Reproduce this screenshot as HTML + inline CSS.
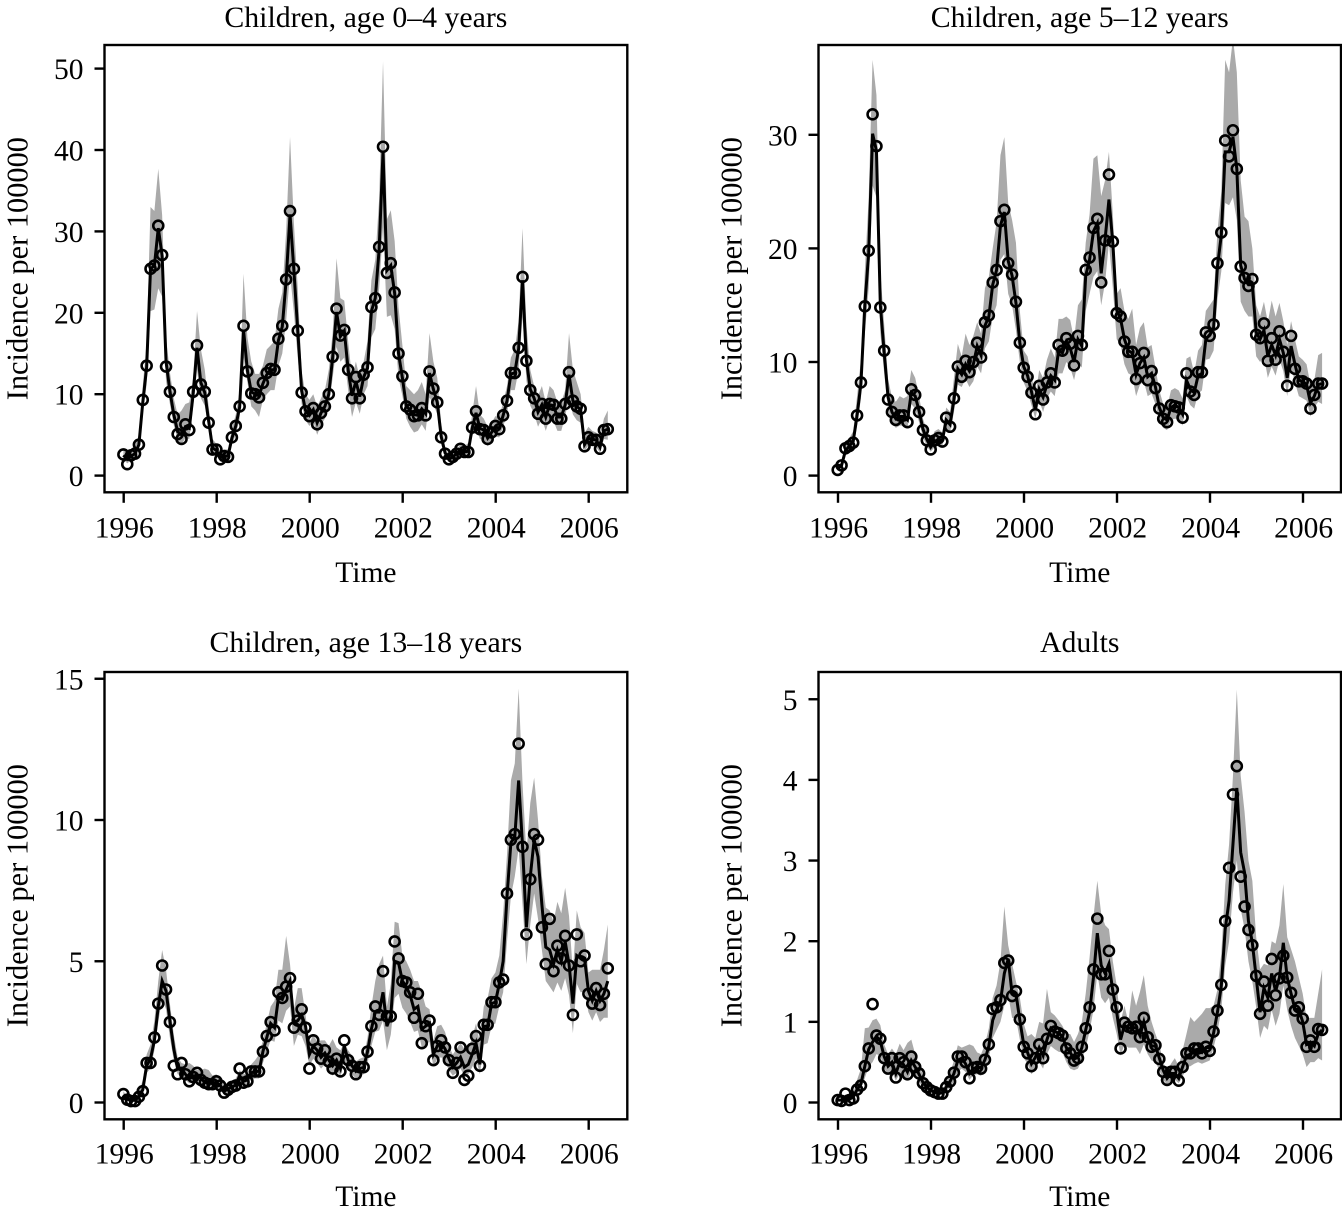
<!DOCTYPE html>
<html lang="en">
<head>
<meta charset="utf-8">
<title>Incidence per 100000 by age group, 1996–2006</title>
<style>
html,body{margin:0;padding:0;background:#fff;}
svg{display:block;}
text{font-family:"Liberation Serif","Times New Roman",serif;font-size:29.5px;fill:#000;}
</style>
</head>
<body>
<svg id="chart" xmlns="http://www.w3.org/2000/svg" width="1342" height="1212" viewBox="0 0 1342 1212"></svg>
<script>
const xTicks = [1996, 1998, 2000, 2002, 2004, 2006];
const startYear = 1996;

const panelTitles = ["Children, age 0–4 years", "Children, age 5–12 years", "Children, age 13–18 years", "Adults"];
const yAxisTitle = "Incidence per 100000";
const xAxisTitle = "Time";

const yTicks1 = [0, 10, 20, 30, 40, 50];
const yTicks2 = [0, 10, 20, 30];
const yTicks3 = [0, 5, 10, 15];
const yTicks4 = [0, 1, 2, 3, 4, 5];

/* Panel 1: age 0-4 */
const obs1 = [
2.6,1.4,2.5,2.7,3.8,9.3,13.5,25.4,25.8,30.7,27.1,13.4,
10.3,7.2,5.1,4.5,6.3,5.6,10.3,16.0,11.2,10.3,6.5,3.2,
3.2,2.0,2.4,2.3,4.7,6.1,8.5,18.4,12.8,10.1,10.0,9.6,
11.4,12.6,13.1,13.0,16.8,18.4,24.1,32.5,25.4,17.8,10.2,7.9,
7.3,8.3,6.3,7.7,8.5,10.0,14.6,20.5,17.2,17.9,13.0,9.5,
12.1,9.5,12.4,13.3,20.7,21.8,28.1,40.4,24.9,26.1,22.5,15.0,
12.2,8.5,8.1,7.3,7.4,8.3,7.4,12.8,10.7,9.0,4.7,2.7,
2.0,2.3,2.7,3.3,2.9,2.9,5.9,7.9,5.7,5.6,4.5,5.3,
6.1,5.7,7.4,9.2,12.6,12.6,15.7,24.4,14.1,10.5,9.5,7.6,
8.8,7.0,8.8,8.7,7.0,7.0,8.8,12.7,9.2,8.5,8.2,3.6,
4.7,4.4,4.4,3.3,5.6,5.7];
const fit1 = [
2.5,2.0,2.4,2.7,3.8,9.0,13.3,25.4,25.8,30.4,27.0,14.0,
10.4,7.5,5.4,5.0,6.0,5.8,10.0,15.7,11.4,10.2,6.7,3.4,
3.1,2.2,2.4,2.4,4.6,6.1,8.4,17.9,12.9,10.3,10.0,9.8,
11.3,12.4,13.0,13.0,16.6,18.3,24.0,32.1,25.2,17.8,10.4,8.0,
7.4,8.1,6.5,7.7,8.5,10.0,14.5,20.1,17.1,17.8,13.0,9.8,
11.6,9.7,12.1,13.2,20.2,21.8,27.8,39.8,25.2,25.8,22.4,15.0,
12.0,8.6,8.0,7.5,7.4,8.2,7.6,12.6,10.6,9.0,4.8,2.8,
2.0,2.3,2.7,3.2,2.9,3.0,5.8,7.7,5.8,5.6,4.6,5.3,
6.0,5.8,7.4,9.2,12.5,12.6,15.6,24.0,14.2,10.6,9.5,7.8,
8.7,7.2,8.7,8.6,7.2,7.2,8.7,12.4,9.2,8.5,8.1,3.8,
4.6,4.4,4.4,3.5,5.5,5.7];
const hi1 = [
3.4,3.0,3.3,3.7,5.0,11,16.5,33,32.5,37.7,32,17,
12.7,9.5,7.5,8,8.8,9,12,20.2,15.5,13,8.5,4.5,
3.9,3,3.2,3.2,5.8,7.5,10.5,24.8,17,14,12.5,12.5,
13.5,15.5,16,16.5,20.5,22.5,30,41.6,31,23,12.8,10,
9.3,10,8.5,9.5,10.5,13,17.5,26.7,21.8,21.5,16.5,12,
14,12,14,16.5,24,26.5,34,50.9,31.5,32.6,28.8,20.7,
16,11,10.5,10,10.5,11.5,10,17.5,14,12,6.5,3.6,
2.5,2.8,3.2,3.9,3.6,4,7.5,11,7.5,7,6,6.5,
7.3,7.2,9,11,14.5,15.5,19,30.4,18.5,13,11,9.8,
11,9,11,10.5,9,9,10.5,17.5,13,11.5,10,5.2,
6,5.5,5.3,4.5,7,8];
const lo1 = [
2,1.5,1.9,2.1,3.1,7.6,11.2,20.2,20.4,23,22,11.6,
8.8,6.2,4.4,3.8,4.6,4.5,8.5,13,9.5,8.6,5.6,2.7,
2.5,1.7,2,1.9,3.8,5,7,14.5,11.5,8.5,8,7.2,
9.3,10,10.5,10.5,13.5,15,19,24.8,20,14.5,8.8,6.8,
6.1,6.7,5,6.2,7,8.5,12,15.8,14,14.5,10.5,7.2,
9,7.6,10,11,17,18,23,30.5,19.5,19.7,18,12,
9.8,7,6,5.3,5.5,6.3,5.5,9.6,8.8,7.5,3.9,2.4,
1.7,2,2.3,2.7,2.4,2.4,4.8,6,4.5,4.4,3.6,4.2,
4.8,4.7,6,7.6,10.5,10.5,13,19.5,11.7,8.6,7.6,6,
7,5.5,7,6.7,5.5,5.5,7.3,9.5,7.5,6.8,6.5,3,
3.7,3.6,3.5,2.8,4.5,4.4];

/* Panel 2: age 5-12 */
const obs2 = [
.5,.9,2.4,2.6,2.9,5.3,8.2,14.9,19.8,31.8,29.0,14.8,
11.0,6.7,5.6,4.9,5.3,5.3,4.7,7.6,7.1,5.6,4.0,3.1,
2.3,3.1,3.3,3.0,5.1,4.3,6.8,9.6,8.7,10.1,9.1,10.0,
11.7,10.4,13.5,14.1,17.0,18.1,22.4,23.4,18.7,17.7,15.3,11.7,
9.5,8.7,7.3,5.4,7.9,6.7,8.2,9.0,8.2,11.5,11.0,12.1,
11.6,9.7,12.3,11.5,18.1,19.2,21.8,22.6,17.0,20.7,26.5,20.6,
14.3,14.0,11.8,10.9,10.9,8.5,9.9,10.8,8.4,9.2,7.7,5.9,
5.0,4.7,6.2,6.1,6.0,5.1,9.0,7.4,7.1,9.1,9.1,12.6,
12.3,13.3,18.7,21.4,29.5,28.1,30.4,27.0,18.4,17.4,16.7,17.3,
12.4,12.1,13.4,10.1,12.1,10.2,12.7,10.9,7.9,12.3,9.4,8.3,
8.3,8.1,5.9,7.1,8.1,8.1];
const fit2 = [
.6,.9,2.2,2.6,3.0,5.3,8.1,15,19.6,30.1,28.6,15,
10.8,6.9,5.6,5.0,5.2,5.2,4.9,7.3,7.0,5.7,4.1,3.2,
2.5,3.0,3.2,3.1,4.9,4.5,6.7,9.4,8.9,9.8,9.2,9.8,
11.4,10.6,13.2,14,16.8,18.1,22,23.2,18.9,17.6,15.2,11.7,
9.6,8.8,7.4,5.8,7.6,6.9,8,8.8,8.4,11,10.8,11.8,
11.2,10,12,11.4,17.6,19,21.5,22.2,17.8,20.8,24.3,20.5,
14.6,13.8,12,11,10.8,8.9,9.9,10.4,8.7,9,7.8,6,
5.1,4.9,6,6.2,6,5.4,8.4,7.6,7.3,8.8,9,12,
12.4,13,18.4,21.2,28.5,28.5,29.8,27,18.5,17.3,16.8,16.8,
12.6,12,12.8,10.5,11.5,10.6,12,10.8,8.6,11.4,9.8,8.4,
8.3,8,6.4,7,8,8.1];
const hi2 = [
.8,1.2,2.9,3.3,3.9,7,10.2,18,24.5,36.6,33.5,18,
13.3,8.5,6.9,6.5,7,6.8,7,9.3,8.6,7,5,4,
3.1,3.9,4.1,3.8,6,5.6,8.6,11.6,10.5,12.5,11.5,12.3,
13.5,12.5,16.5,17.5,20,22.3,28.2,29.8,24,22.5,20.5,14.5,
11,10.5,8.8,7,9.3,8.6,10.2,11.2,10.4,13.8,13.8,14,
13.7,12,15,15.5,20.5,23,27.9,28.2,24.6,26,28.5,23,
16,16.5,14.5,13.8,14.7,11.5,13,13.5,11.3,11.5,9.5,7.5,
6.3,6,7.5,7.7,7.5,6.8,10.3,10.5,9,11,11.5,14.5,
15,15.5,21.5,25,36.6,35.5,38.5,35.5,26,22.8,22.4,20,
15,14,15.3,13.5,15.4,14,15.2,13.6,11.5,13.6,12,10.5,
10.2,9.8,8,8.4,10.6,10.8];
const lo2 = [
.4,.7,1.8,2,2.4,4.4,6.8,12.5,16.5,25.5,24.5,12.6,
9,5.8,4.6,4.2,4.4,4.4,4.2,6.3,5.9,4.7,3.4,2.6,
2.1,2.5,2.7,2.6,4.2,3.8,5.6,8,7.8,8.5,7.8,8.3,
9.6,9,11.2,11.8,14,15,19,19.5,16,15,12.8,10,
8.2,7.4,6.2,5,6.6,5.6,6.8,7.4,7,9,9,10,
9.5,8.4,10,9.5,14.5,16,17.5,18,15,17,20.5,16.5,
12,11.5,9.8,9,8.8,7,8,8.3,7,7.2,6.3,4.8,
4.2,4,4.9,5,5,4.4,7,6.2,5.9,7.2,7.5,10.2,
10.3,11,15.5,18,24,23.8,24.5,22.5,15.3,14.5,14,14,
10.5,10,10.5,8.6,9.6,8.8,10.2,9.2,7,9.6,8.2,7,
6.8,6.6,5.2,6,6.5,6.3];

/* Panel 3: age 13-18 */
const obs3 = [
.3,.1,.05,.05,.2,.4,1.4,1.4,2.3,3.5,4.85,4.0,
2.85,1.3,1.0,1.4,1.0,.75,.9,1.05,.8,.7,.65,.65,
.75,.6,.35,.45,.55,.6,1.2,.7,.75,1.1,1.1,1.1,
1.8,2.35,2.85,2.55,3.9,3.7,4.1,4.4,2.65,2.9,3.3,2.65,
1.2,2.2,1.9,1.55,1.85,1.45,1.2,1.55,1.1,2.2,1.5,1.3,
1.0,1.25,1.25,1.8,2.7,3.4,3.1,4.65,3.05,3.05,5.7,5.1,
4.3,4.25,3.9,3.0,3.85,2.1,2.7,2.9,1.5,2.0,2.2,1.95,
1.5,1.05,1.4,1.95,.8,.95,1.9,2.35,1.3,2.75,2.75,3.55,
3.55,4.25,4.35,7.4,9.3,9.5,12.7,9.05,5.95,7.9,9.5,9.3,
6.2,4.9,6.5,4.65,5.55,5.1,5.9,4.85,3.1,5.95,5.0,5.2,
3.85,3.5,4.05,3.45,3.85,4.75];
const fit3 = [
.25,.12,.08,.08,.2,.45,1.3,1.55,2.2,3.4,4.3,3.95,
2.9,1.9,1.2,1.2,1.0,.85,.9,1.0,.85,.72,.68,.68,
.72,.6,.4,.48,.55,.62,.95,.75,.8,1.05,1.1,1.1,
1.8,2.3,2.8,2.65,3.7,3.65,4.0,4.3,2.85,2.9,3.1,2.7,
1.7,2,1.85,1.6,1.75,1.5,1.3,1.5,1.2,2,1.5,1.3,
1.1,1.2,1.25,1.8,2.6,3.2,3.2,3.9,2.7,3.05,5,4.95,
4.3,4.1,3.8,3.3,3.4,2.6,2.7,2.8,1.7,2,2.1,1.9,
1.55,1.25,1.4,1.6,1.25,1.35,1.7,2.1,1.35,2.7,2.7,3.5,
3.55,4.2,5,7.3,9.2,9.4,11.4,9.1,6.2,8,9.3,8.7,
7,5.5,5.4,4.9,5.4,5,5.7,4.9,3.5,5.2,5.1,5.1,
3.95,3.6,3.95,3.6,3.85,4.3];
const hi3 = [
.4,.2,.15,.18,.35,.8,1.7,2.05,2.9,4.3,5.4,4.7,
3.5,2.4,1.6,1.4,1.35,1.4,1.3,1.15,1.15,1.2,1.15,.95,
1.0,.85,.6,.7,.75,.85,1.15,1.0,1.05,1.35,1.5,1.7,
2.2,2.8,3.4,3.6,4.7,4.7,5.9,4.9,3.3,4.05,4.05,3.1,
2.1,2.4,2.15,2.2,2.2,2.0,2.25,1.95,1.85,2.1,1.85,1.65,
1.45,1.55,1.6,2.3,3.4,4.3,4.9,5.2,3.4,4.2,6.4,6.35,
5.2,5.0,4.7,4.3,4.3,3.9,3.4,3.3,2.2,2.7,2.75,2.5,
2.0,1.7,1.9,2.1,1.9,1.9,2.3,2.8,2.1,3.4,3.7,4.4,
4.6,5.2,6.7,8.8,11.4,12,14.65,11.3,8.8,10.6,11.5,10,
8,6.9,6.8,6.4,7.1,6.7,7.6,6.6,4.6,6.8,6.2,6.0,
4.6,4.7,4.7,4.7,5.4,6.3];
const lo3 = [
.2,.05,.02,.02,.1,.28,1.05,1.2,1.85,2.85,3.7,3.3,
2.3,1.5,1,.95,.8,.68,.72,.82,.68,.56,.52,.52,
.55,.45,.3,.35,.42,.48,.72,.55,.6,.82,.85,.85,
1.4,1.8,2.2,2.15,2.9,2.8,3.25,3.4,2.0,2.4,2.35,2.0,
1.3,1.55,1.4,1.2,1.35,1.15,.95,1.15,.92,1.5,1.15,1.0,
.85,.95,1.0,1.4,2,2.5,2.55,2.9,1.85,2.4,3.7,3.85,
3.35,3.15,2.85,2.5,2.55,1.95,2.05,2.15,1.25,1.55,1.6,1.45,
1.15,.95,1.05,1.2,.95,1.0,1.25,1.55,1.0,2.05,2.1,2.7,
2.8,3.4,3.9,5.7,7.3,8,9,7,4.9,6.3,7.4,6.5,
5.4,4.3,4.1,3.9,4.25,3.95,4.4,3.8,2.45,4.2,3.9,3.95,
3.2,2.9,3.2,2.85,3,3];

/* Panel 4: adults */
const obs4 = [
.03,.02,.11,.03,.05,.16,.21,.45,.67,1.22,.83,.79,
.55,.42,.55,.31,.55,.5,.35,.57,.44,.36,.24,.19,
.15,.13,.11,.11,.19,.26,.37,.57,.57,.5,.3,.43,
.44,.42,.53,.72,1.16,1.18,1.27,1.73,1.76,1.32,1.38,1.03,
.69,.61,.45,.55,.72,.55,.79,.95,.88,.86,.83,.67,
.61,.52,.55,.69,.92,1.18,1.65,2.28,1.59,1.59,1.88,1.40,
1.18,.67,.99,.94,.92,.94,.81,1.05,.81,.69,.71,.54,
.38,.28,.38,.38,.27,.44,.61,.61,.67,.67,.61,.69,
.64,.88,1.14,1.46,2.25,2.91,3.82,4.17,2.80,2.43,2.14,1.95,
1.57,1.10,1.50,1.20,1.78,1.33,1.54,1.82,1.55,1.36,1.14,1.18,
1.04,.69,.77,.69,.91,.90];
const fit4 = [
.03,.03,.07,.04,.07,.16,.23,.45,.66,.75,.82,.76,
.57,.45,.5,.36,.5,.47,.38,.52,.44,.35,.25,.19,
.15,.13,.12,.12,.19,.26,.36,.52,.55,.48,.36,.42,
.44,.43,.53,.7,1.02,1.15,1.25,1.6,1.78,1.35,1.35,1.02,
.72,.62,.48,.56,.68,.58,.78,.92,.88,.86,.82,.68,
.62,.54,.56,.68,.9,1.12,1.55,2.1,1.7,1.6,1.72,1.38,
1.12,.78,.96,.92,.92,.93,.83,1.0,.8,.7,.7,.55,
.4,.3,.36,.36,.3,.44,.58,.6,.65,.66,.62,.68,
.68,.86,1.12,1.45,2.15,2.5,3.2,3.9,3.1,2.85,2.25,1.98,
1.55,1.12,1.42,1.3,1.6,1.38,1.55,1.98,1.55,1.35,1.16,1.15,
1.0,.72,.75,.7,.85,.9];
const hi4 = [
.05,.05,.1,.08,.12,.28,.42,.92,.93,1.02,1.04,.96,
.72,.6,.67,.6,.73,.65,.74,.78,.6,.47,.34,.27,
.2,.17,.15,.16,.26,.36,.52,.71,.68,.7,.72,.7,
.62,.6,.72,.92,1.3,1.45,1.75,2.43,1.95,1.72,1.5,1.3,
.98,.82,.85,.8,1.0,.98,1.41,1.12,1.08,1.02,.95,.85,
.85,.75,.85,1.0,1.35,1.8,2.3,2.75,2.34,2.2,2.15,1.75,
1.45,1.0,1.2,1.0,1.39,1.2,1.37,1.58,1.2,1.0,.85,.72,
.5,.38,.48,.55,.45,.65,.85,1.06,1.0,1.05,1.1,1.17,
1.17,1.2,1.4,1.85,2.7,3.2,4.05,5.12,4.05,3.6,3.0,2.75,
2.05,1.65,1.72,1.7,2.0,1.97,2.2,2.71,2.05,1.9,1.75,1.55,
1.35,1.05,1.05,1.05,1.35,1.65];
const lo4 = [
.02,.02,.05,.02,.03,.1,.17,.3,.45,.5,.6,.58,
.42,.35,.38,.27,.36,.33,.27,.38,.32,.26,.18,.14,
.11,.1,.09,.09,.14,.19,.26,.38,.42,.38,.28,.34,
.35,.33,.42,.55,.8,.9,1,1.2,1.34,1.05,1.05,.78,
.55,.48,.35,.42,.5,.42,.6,.7,.66,.63,.62,.5,
.42,.4,.42,.52,.68,.88,1.15,1.6,1.3,1.23,1.3,1.05,
.85,.58,.72,.68,.68,.68,.6,.72,.6,.52,.5,.4,
.28,.22,.27,.28,.24,.32,.44,.45,.48,.5,.48,.5,
.52,.68,.88,1.15,1.7,2.0,2.6,3.0,2.4,2.15,1.75,1.5,
1.18,.8,.95,.9,1.15,.95,1.1,1.45,1.15,.95,.8,.7,
.6,.44,.5,.5,.55,.52];

const SVG_NS = "http://www.w3.org/2000/svg";
const svg = document.getElementById("chart");

function make(tag, attrs, parent) {
  const el = document.createElementNS(SVG_NS, tag);
  for (const k in attrs) el.setAttribute(k, attrs[k]);
  parent.appendChild(el);
  return el;
}

function drawPanel(p) {
  const xScale = t => p.originX + (t - startYear) * p.pxPerYear;
  const yScale = v => p.zeroY - v * p.pxPerUnit;
  const monthX = i => xScale(startYear + i / 12) - 0.3;

  const g = make("g", {}, svg);
  
  

  const clipId = p.name + "-clip";
  const defs = make("defs", {}, g);
  const clip = make("clipPath", { id: clipId }, defs);
  make("rect", { x: p.left, y: p.top, width: p.right - p.left, height: p.bottom - p.top }, clip);

  /* confidence band */
  let d = "";
  p.hi.forEach((v, i) => { d += (i ? "L" : "M") + monthX(i).toFixed(2) + " " + yScale(v).toFixed(2); });
  for (let i = p.lo.length - 1; i >= 0; i--) d += "L" + monthX(i).toFixed(2) + " " + yScale(p.lo[i]).toFixed(2);
  const band = make("path", { d: d + "Z", fill: "#aaaaaa", stroke: "none", "clip-path": "url(#" + clipId + ")" }, g);
  
  

  /* fitted line */
  const pts = p.fit.map((v, i) => monthX(i).toFixed(2) + "," + yScale(v).toFixed(2)).join(" ");
  const line = make("polyline", { points: pts, fill: "none", stroke: "#000", "stroke-width": 3, "stroke-linejoin": "miter", "clip-path": "url(#" + clipId + ")" }, g);
  
  

  /* observed points */
  const pointsGroup = make("g", { fill: "none", stroke: "#000", "stroke-width": 2.6 }, g);
  
  
  p.obs.forEach((v, i) => {
    const c = make("circle", { cx: monthX(i).toFixed(2), cy: yScale(v).toFixed(2), r: 5 }, pointsGroup);
    
    
  });

  /* frame */
  const frame = make("rect", { x: p.left, y: p.top, width: p.right - p.left, height: p.bottom - p.top, fill: "none", stroke: "#000", "stroke-width": 2.4 }, g);
  
  

  /* x axis */
  const xAxis = make("g", {}, g);
  
  
  xTicks.forEach(t => {
    const x = xScale(t);
    const tick = make("line", { x1: x, x2: x, y1: p.bottom, y2: p.bottom + 10.5, stroke: "#000", "stroke-width": 2.4 }, xAxis);
    
    
    const label = make("text", { x: x + 0.6, y: p.bottom + p.tickLabelGap, "text-anchor": "middle" }, xAxis);
    
    
    label.textContent = t;
  });
  const xt = make("text", { x: (p.left + p.right) / 2, y: p.bottom + p.xTitleGap, "text-anchor": "middle" }, xAxis);
  
  
  xt.textContent = xAxisTitle;

  /* y axis */
  const yAxis = make("g", {}, g);
  
  
  p.yTicks.forEach(v => {
    const y = yScale(v);
    const tick = make("line", { x1: p.left - 10, x2: p.left, y1: y, y2: y, stroke: "#000", "stroke-width": 2.4 }, yAxis);
    
    
    const label = make("text", { x: p.left - 21, y: y + 10.5, "text-anchor": "end" }, yAxis);
    
    
    label.textContent = v;
  });
  const yMid = (p.top + p.bottom) / 2;
  const yt = make("text", { x: 0, y: 0, "text-anchor": "middle", style: "font-size:30.4px", transform: "translate(" + (p.left - 77) + " " + yMid + ") rotate(-90)" }, yAxis);
  
  
  yt.textContent = yAxisTitle;

  /* title */
  const title = make("text", { x: (p.left + p.right) / 2, y: p.top - p.titleGap, "text-anchor": "middle", style: "font-size:29.8px" }, g);
  
  
  title.textContent = p.title;
}

drawPanel({ name: "panel-age-0-4", title: panelTitles[0], left: 104.5, right: 627.3, top: 45, bottom: 492.3, originX: 123.7, pxPerYear: 46.5, zeroY: 475.6, pxPerUnit: 8.14, tickLabelGap: 45, xTitleGap: 89.5, titleGap: 18, obs: obs1, fit: fit1, lo: lo1, hi: hi1, yTicks: yTicks1 });
drawPanel({ name: "panel-age-5-12", title: panelTitles[1], left: 818.5, right: 1341, top: 45, bottom: 492.3, originX: 838, pxPerYear: 46.5, zeroY: 475.6, pxPerUnit: 11.36, tickLabelGap: 45, xTitleGap: 89.5, titleGap: 18, obs: obs2, fit: fit2, lo: lo2, hi: hi2, yTicks: yTicks2 });
drawPanel({ name: "panel-age-13-18", title: panelTitles[2], left: 104.5, right: 627.3, top: 672, bottom: 1119.3, originX: 123.7, pxPerYear: 46.5, zeroY: 1102.5, pxPerUnit: 28.25, tickLabelGap: 44, xTitleGap: 86.5, titleGap: 20, obs: obs3, fit: fit3, lo: lo3, hi: hi3, yTicks: yTicks3 });
drawPanel({ name: "panel-adults", title: panelTitles[3], left: 818.5, right: 1341, top: 672, bottom: 1119.3, originX: 838, pxPerYear: 46.5, zeroY: 1102.5, pxPerUnit: 80.65, tickLabelGap: 44, xTitleGap: 86.5, titleGap: 20, obs: obs4, fit: fit4, lo: lo4, hi: hi4, yTicks: yTicks4 });
</script>
</body>
</html>
